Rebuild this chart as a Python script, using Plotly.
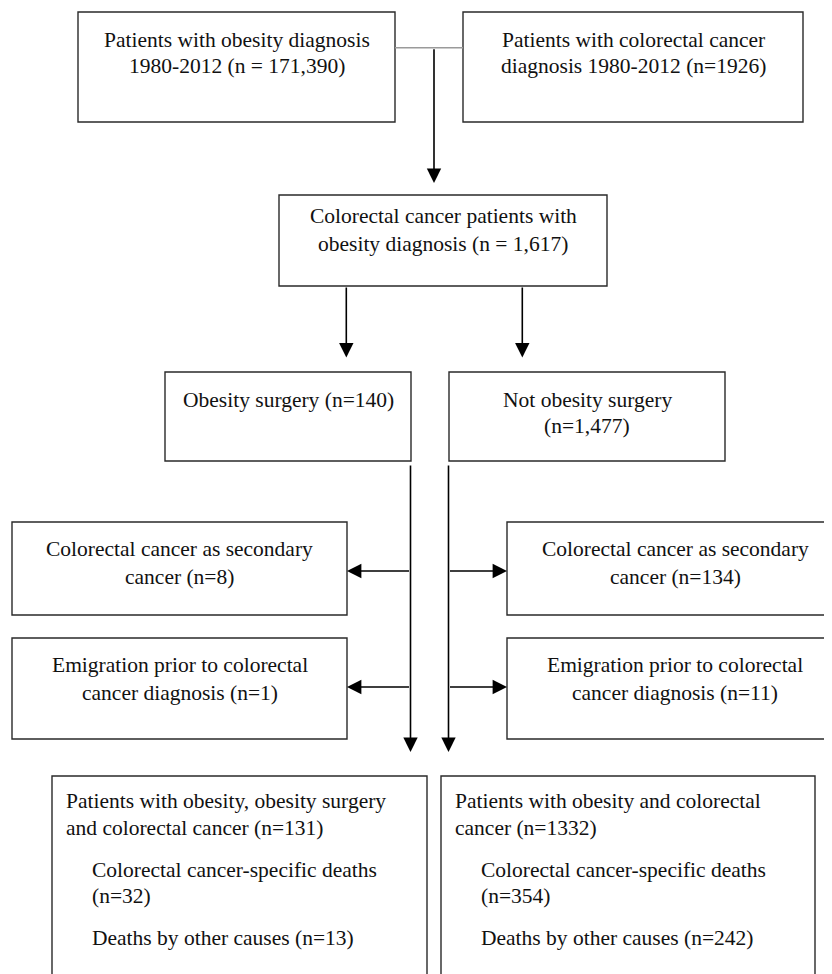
import plotly.graph_objects as go

# ---------------- data ----------------
box_counts = ["171,390", "1926", "1,617", "140", "1,477", "8", "134", "1", "11", "131", "1332"]
cancer_deaths = ["32", "354"]
other_deaths = ["13", "242"]

box_lines = [
    ["Patients with obesity diagnosis", "1980-2012 (n = {n})"],
    ["Patients with colorectal cancer", "diagnosis 1980-2012 (n={n})"],
    ["Colorectal cancer patients with", "obesity diagnosis (n = {n})"],
    ["Obesity surgery (n={n})"],
    ["Not obesity surgery", "(n={n})"],
    ["Colorectal cancer as secondary", "cancer (n={n})"],
    ["Colorectal cancer as secondary", "cancer (n={n})"],
    ["Emigration prior to colorectal", "cancer diagnosis (n={n})"],
    ["Emigration prior to colorectal", "cancer diagnosis (n={n})"],
    ["Patients with obesity, obesity surgery", "and colorectal cancer (n={n})"],
    ["Patients with obesity and colorectal", "cancer (n={n})"],
]
sub_lines = [
    ["Colorectal cancer-specific deaths", "(n={d})", "Deaths by other causes (n={o})"],
    ["Colorectal cancer-specific deaths", "(n={d})", "Deaths by other causes (n={o})"],
]

# ---------------- layout geometry ----------------
box_x0 = [78, 463, 279, 165, 449, 12, 507, 12, 507, 52, 441]
box_x1 = [395, 803, 607, 411, 725, 347, 843, 347, 843, 427, 815]
box_y0 = [12, 12, 195, 372, 372, 522, 522, 638, 638, 776, 776]
box_y1 = [122, 122, 286, 461, 461, 615, 615, 739, 739, 1010, 1010]
line_base = [
    [46.7, 72.5], [46.7, 72.5], [222.5, 250.5], [406.5], [406.5, 433],
    [556, 584], [556, 584], [672, 700], [672, 700], [808, 835], [808, 835],
]
left_x = {9: 64, 10: 453}
sub_x = [89.5, 478.5]
sub_base = [877, 903, 945]

# arrows: (tail x, tail y, tip x, tip y)
arrows = [
    (434, 47.7, 434, 183),
    (346.3, 286, 346.3, 357.5),
    (522.3, 286, 522.3, 357.5),
    (410.5, 464, 410.5, 752),
    (448.5, 464, 448.5, 752),
    (410.5, 571, 347, 571),
    (448.5, 571, 507, 571),
    (410.5, 687, 347, 687),
    (448.5, 687, 507, 687),
]

FONT = dict(family="Liberation Serif, Times New Roman, serif", size=21.5, color="#111111")
OFF = 7.0  # baseline -> text-box centre
PAGE_PAD = 8  # browser body margin

fig = go.Figure()
fig.add_trace(go.Scatter(x=[PAGE_PAD, 832], y=[PAGE_PAD, 974], mode="markers",
                         marker=dict(opacity=0), hoverinfo="skip", showlegend=False))

shapes = []
for x0, x1, y0, y1 in zip(box_x0, box_x1, box_y0, box_y1):
    shapes.append(dict(type="rect", xref="x", yref="y", x0=x0, x1=x1, y0=y0, y1=y1,
                       line=dict(color="#2a2a2a", width=1.4), fillcolor="rgba(0,0,0,0)"))
# grey connector between the two top boxes
shapes.append(dict(type="line", xref="x", yref="y", x0=box_x1[0], x1=box_x0[1], y0=47.7, y1=47.7,
                   line=dict(color="#9a9a9a", width=1.5)))

annotations = []
for i, lines in enumerate(box_lines):
    cx = (box_x0[i] + box_x1[i]) / 2
    for txt, base in zip(lines, line_base[i]):
        txt = txt.format(n=box_counts[i])
        if i in left_x:
            annotations.append(dict(x=left_x[i], y=base - OFF, xref="x", yref="y", text=txt,
                                    showarrow=False, xanchor="left", yanchor="middle", font=FONT))
        else:
            annotations.append(dict(x=cx, y=base - OFF, xref="x", yref="y", text=txt,
                                    showarrow=False, xanchor="center", yanchor="middle", font=FONT))
for j, lines in enumerate(sub_lines):
    for txt, base in zip(lines, sub_base):
        txt = txt.format(d=cancer_deaths[j], o=other_deaths[j])
        annotations.append(dict(x=sub_x[j], y=base - OFF, xref="x", yref="y", text=txt,
                                showarrow=False, xanchor="left", yanchor="middle", font=FONT))

for ax, ay, tx, ty in arrows:
    annotations.append(dict(x=tx, y=ty, ax=ax, ay=ay, xref="x", yref="y", axref="x", ayref="y",
                            text="", showarrow=True, arrowhead=2, arrowsize=1.8, arrowwidth=1.6,
                            arrowcolor="#000000", standoff=0, startstandoff=0))

fig.update_layout(
    width=832 - PAGE_PAD, height=974 - PAGE_PAD,
    margin=dict(l=0, r=0, t=0, b=0),
    paper_bgcolor="white", plot_bgcolor="white",
    shapes=shapes, annotations=annotations,
    xaxis=dict(range=[PAGE_PAD, 832], visible=False, fixedrange=True),
    yaxis=dict(range=[974, PAGE_PAD], visible=False, fixedrange=True),
    showlegend=False,
)
fig.write_html("out.html")
